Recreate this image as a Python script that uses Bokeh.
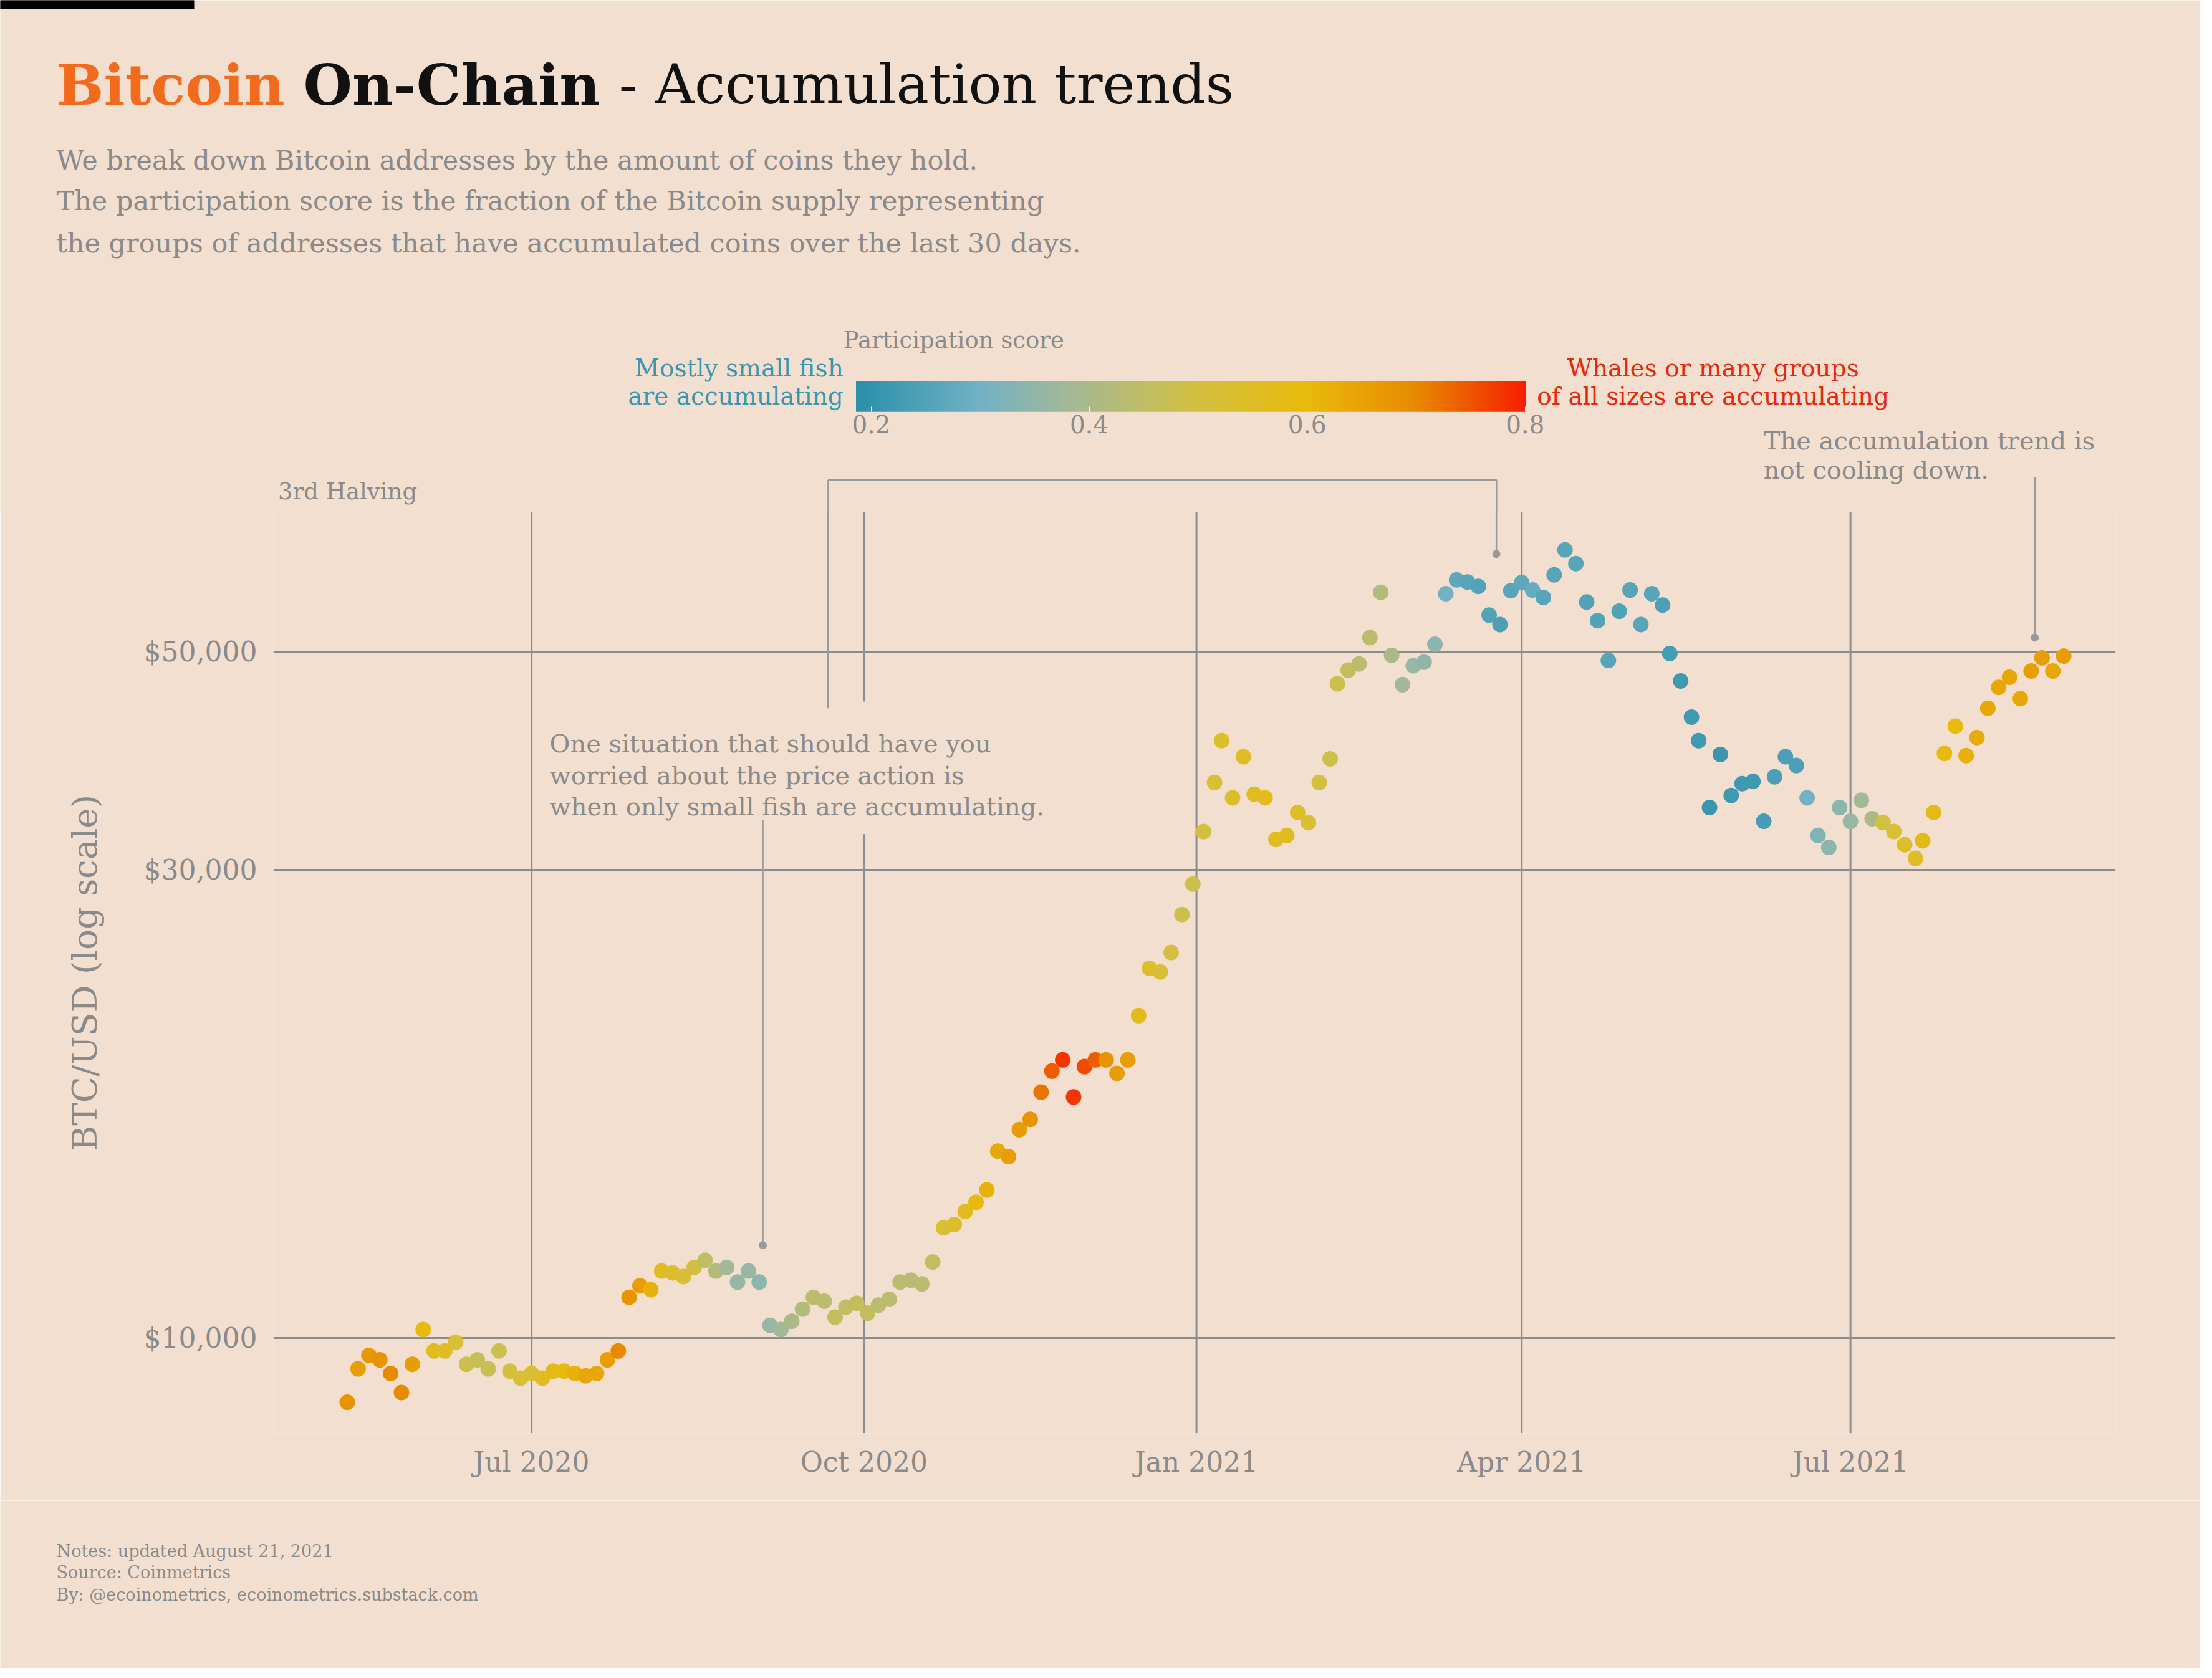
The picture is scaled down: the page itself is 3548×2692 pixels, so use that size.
import numpy as np
import pandas as pd
from bokeh.plotting import figure
from bokeh.layouts import column
from bokeh.models import (Label, ColorBar, LinearColorMapper, FixedTicker, Range1d, ColumnDataSource)
from bokeh.embed import file_html
from bokeh.resources import INLINE

# ---------------- data ----------------
dates = ["2020-05-11","2020-05-14","2020-05-17","2020-05-20","2020-05-23","2020-05-26","2020-05-29","2020-06-01",
"2020-06-04","2020-06-07","2020-06-10","2020-06-13","2020-06-16","2020-06-19","2020-06-22","2020-06-25","2020-06-28",
"2020-07-01","2020-07-04","2020-07-07","2020-07-10","2020-07-13","2020-07-16","2020-07-19","2020-07-22","2020-07-25",
"2020-07-28","2020-07-31","2020-08-03","2020-08-06","2020-08-09","2020-08-12","2020-08-15","2020-08-18","2020-08-21",
"2020-08-24","2020-08-27","2020-08-30","2020-09-02","2020-09-05","2020-09-08","2020-09-11","2020-09-14","2020-09-17",
"2020-09-20","2020-09-23","2020-09-26","2020-09-29","2020-10-02","2020-10-05","2020-10-08","2020-10-11","2020-10-14",
"2020-10-17","2020-10-20","2020-10-23","2020-10-26","2020-10-29","2020-11-01","2020-11-04","2020-11-07","2020-11-10",
"2020-11-13","2020-11-16","2020-11-19","2020-11-22","2020-11-25","2020-11-28","2020-12-01","2020-12-04","2020-12-07",
"2020-12-10","2020-12-13","2020-12-16","2020-12-19","2020-12-22","2020-12-25","2020-12-28","2020-12-31","2021-01-03",
"2021-01-06","2021-01-08","2021-01-11","2021-01-14","2021-01-17","2021-01-20","2021-01-23","2021-01-26","2021-01-29",
"2021-02-01","2021-02-04","2021-02-07","2021-02-09","2021-02-12","2021-02-15","2021-02-18","2021-02-21","2021-02-24",
"2021-02-27","2021-03-02","2021-03-05","2021-03-08","2021-03-11","2021-03-14","2021-03-17","2021-03-20","2021-03-23",
"2021-03-26","2021-03-29","2021-04-01","2021-04-04","2021-04-07","2021-04-10","2021-04-13","2021-04-16","2021-04-19",
"2021-04-22","2021-04-25","2021-04-28","2021-05-01","2021-05-04","2021-05-07","2021-05-10","2021-05-12","2021-05-15",
"2021-05-18","2021-05-20","2021-05-23","2021-05-26","2021-05-29","2021-06-01","2021-06-04","2021-06-07","2021-06-10",
"2021-06-13","2021-06-16","2021-06-19","2021-06-22","2021-06-25","2021-06-28","2021-07-01","2021-07-04","2021-07-07",
"2021-07-10","2021-07-13","2021-07-16","2021-07-19","2021-07-21","2021-07-24","2021-07-27","2021-07-30","2021-08-02",
"2021-08-05","2021-08-08","2021-08-11","2021-08-14","2021-08-17","2021-08-20","2021-08-23","2021-08-26","2021-08-29"]
price = [8600,9300,9600,9500,9200,8800,9400,10200,9700,9700,9900,9400,9500,9300,9700,9250,9100,
9200,9100,9250,9250,9200,9150,9200,9500,9700,11000,11300,11200,11700,11650,11550,11800,12000,11700,
11800,11400,11700,11400,10300,10200,10400,10700,11000,10900,10500,10750,10850,10600,10800,10950,11400,11450,
11350,11950,12950,13050,13450,13750,14150,15500,15300,16300,16700,17800,18700,19200,17600,18900,19200,19200,
18600,19200,21300,23800,23600,24700,27000,29000,32800,36800,40600,35500,39100,35800,35500,32200,32500,34300,
33500,36800,38900,46400,47900,48600,51700,57500,49600,46300,48400,48800,50900,57300,59200,58900,58300,54500,
53300,57700,58800,57800,56800,59900,63500,61500,56200,53800,49000,55000,57800,53300,57300,55800,49800,46700,
42900,40600,34700,39300,35700,36700,36900,33600,37300,39100,38300,35500,32500,31600,34700,33600,35300,33800,
33500,32800,31800,30800,32100,34300,39400,42000,39200,40900,43800,46000,47100,44800,47800,49300,47800,49500]
score = [0.68,0.66,0.67,0.68,0.70,0.70,0.66,0.60,0.56,0.55,0.52,0.48,0.47,0.47,0.48,0.50,0.52,
0.52,0.56,0.58,0.60,0.62,0.64,0.64,0.66,0.70,0.68,0.66,0.62,0.56,0.54,0.52,0.50,0.45,0.42,
0.38,0.36,0.36,0.34,0.36,0.38,0.40,0.42,0.44,0.44,0.46,0.45,0.46,0.46,0.44,0.44,0.44,0.43,
0.44,0.46,0.52,0.54,0.56,0.60,0.62,0.64,0.66,0.66,0.68,0.72,0.74,0.78,0.78,0.76,0.74,0.68,
0.66,0.66,0.58,0.54,0.52,0.50,0.48,0.48,0.50,0.52,0.54,0.54,0.55,0.56,0.56,0.56,0.56,0.55,
0.52,0.50,0.48,0.48,0.46,0.44,0.44,0.42,0.40,0.38,0.36,0.35,0.34,0.30,0.27,0.26,0.25,0.25,
0.24,0.26,0.27,0.28,0.26,0.26,0.26,0.26,0.25,0.25,0.26,0.25,0.26,0.26,0.26,0.24,0.23,0.22,
0.22,0.22,0.21,0.21,0.22,0.22,0.22,0.23,0.24,0.24,0.24,0.30,0.32,0.34,0.34,0.36,0.38,0.40,
0.50,0.52,0.54,0.55,0.58,0.58,0.60,0.60,0.62,0.63,0.64,0.64,0.64,0.64,0.66,0.66,0.64,0.66]

tick_dates = ["2020-07-01", "2020-10-01", "2021-01-01", "2021-04-01", "2021-07-01"]
tick_labels = ["Jul 2020", "Oct 2020", "Jan 2021", "Apr 2021", "Jul 2021"]
y_ticks = [10000, 30000, 50000]
y_labels = ["$10,000", "$30,000", "$50,000"]
cb_ticks = [0.2, 0.4, 0.6, 0.8]

# ---------------- style ----------------
S = 2.25
W = 3528
BG = "#F2DFCF"
GRID = "#8C8C8C"
GREY = "#8A8A8A"
LC = "#9A9A9A"
FONT = "DejaVu Serif"
L0, T0, B0, BB = 195, 365, 1022, 1070
PXD = 2.5753

def ms(d): return pd.Timestamp(d).value / 1e6
def refx(d): return 379 + (pd.Timestamp(d) - pd.Timestamp("2020-07-01")).days * PXD

def lab(fig, xr, yr, text, size, color=GREY, style="normal", align="left", baseline="middle"):
    fig.add_layout(Label(x=xr, y=yr, text=text, text_font=FONT, text_font_size=f"{size}px",
                         text_color=color, text_font_style=style, text_align=align,
                         text_baseline=baseline))

def blank(h, y0, y1):
    f = figure(width=W, height=h, output_backend="svg", toolbar_location=None,
               x_axis_location=None, y_axis_location=None,
               x_range=Range1d(0, W / S), y_range=Range1d(y1, y0), min_border=0)
    f.frame_align = False
    f.background_fill_color = BG
    f.border_fill_color = BG
    f.outline_line_color = None
    f.grid.grid_line_color = None
    return f

stops = [(0.186, (0x2A, 0x8F, 0xAA)), (0.30, (0x72, 0xB2, 0xC3)), (0.38, (0xA3, 0xB8, 0x98)),
         (0.50, (0xD4, 0xC0, 0x40)), (0.60, (0xE8, 0xBA, 0x0C)), (0.70, (0xE8, 0x8A, 0x00)),
         (0.801, (0xF6, 0x1E, 0x00))]
pal = []
for t in np.linspace(0.186, 0.801, 256):
    for (a, ca), (b, cb) in zip(stops[:-1], stops[1:]):
        if a <= t <= b:
            f = (t - a) / (b - a)
            c = [int(round(ca[i] + f * (cb[i] - ca[i]))) for i in range(3)]
            pal.append("#%02x%02x%02x" % tuple(c))
            break
mapper = LinearColorMapper(palette=pal, low=0.186, high=0.801)

# ---------------- header ----------------
top_h = int(round(T0 * S))
top = blank(top_h, 0, top_h / S)
top.quad(left=[0], right=[138], top=[0], bottom=[6], color="black")
lab(top, 40, 60, "Bitcoin", 90, "#F26A1B", "bold", baseline="alphabetic")
lab(top, 216, 60, "On-Chain", 90, "#111111", "bold", baseline="alphabetic")
lab(top, 441, 60, "- Accumulation trends", 88, "#111111", baseline="alphabetic")
for yr, t in zip([114, 143, 173], [
        "We break down Bitcoin addresses by the amount of coins they hold.",
        "The participation score is the fraction of the Bitcoin supply representing",
        "the groups of addresses that have accumulated coins over the last 30 days."]):
    lab(top, 40, yr, t, 43)

lab(top, 601, 242, "Participation score", 37)
lab(top, 601, 262, "Mostly small fish", 39, "#3A97B0", align="right")
lab(top, 601, 282, "are accumulating", 39, "#3A97B0", align="right")
lab(top, 1221, 262, "Whales or many groups", 39, "#E8280A", align="center")
lab(top, 1221, 282, "of all sizes are accumulating", 39, "#E8280A", align="center")
cb = ColorBar(color_mapper=mapper, orientation="horizontal", location=(610 * S, (T0 - 310) * S),
              width=int(478 * S), height=int(22 * S), padding=0,
              ticker=FixedTicker(ticks=cb_ticks),
              major_label_overrides={0.2: "0.2", 0.4: "0.4", 0.6: "0.6", 0.8: "0.8"},
              major_label_text_font=FONT, major_label_text_font_size="39px",
              major_label_text_color=GREY, major_tick_line_color="white",
              major_tick_in=8, major_tick_out=0, background_fill_alpha=0,
              border_line_color=None, bar_line_color=None)
top.add_layout(cb, "center")
lab(top, 198, 350, "3rd Halving", 37)
lab(top, 1257, 314, "The  accumulation trend is", 40)
lab(top, 1257, 335, "not cooling down.", 40)
xa, xb, xc = refx("2020-09-21"), refx("2021-03-25"), refx("2021-08-21")
top.line([xa, xa, xb, xb], [T0 + 2, 342, 342, T0 + 2], line_color=LC, line_width=2.5)
top.line([xc, xc], [340, T0 + 2], line_color=LC, line_width=2.5)

# ---------------- main chart ----------------
x0 = ms("2020-07-01") - 184 / PXD * 86400000
x1 = ms("2021-07-01") + 189 / PXD * 86400000
main_h = int(round((BB - T0) * S))
p = figure(width=W, height=main_h, x_axis_type="datetime", y_axis_type="log",
           output_backend="svg", toolbar_location=None,
           x_range=Range1d(x0, x1), y_range=Range1d(7995, 69400),
           min_border_left=int(L0 * S), min_border_right=int((1568 - 1508) * S),
           min_border_top=0, min_border_bottom=int((BB - B0) * S))
p.frame_align = False
p.background_fill_color = BG
p.border_fill_color = BG
p.outline_line_color = None
p.xgrid.grid_line_color = None
p.ygrid.ticker = FixedTicker(ticks=y_ticks)
p.ygrid.grid_line_color = GRID
p.ygrid.grid_line_width = 3

for ax in (p.xaxis[0], p.yaxis[0]):
    ax.axis_line_color = None
    ax.major_tick_line_color = None
    ax.minor_tick_line_color = None
    ax.major_label_text_color = GREY
    ax.major_label_text_font = FONT
    ax.major_label_text_font_size = "44px"
p.yaxis.ticker = FixedTicker(ticks=y_ticks)
p.yaxis.major_label_overrides = {t: l for t, l in zip(y_ticks, y_labels)}
p.yaxis.major_label_standoff = 20
p.yaxis.axis_label = "BTC/USD (log scale)"
p.yaxis.axis_label_text_font = FONT
p.yaxis.axis_label_text_font_style = "normal"
p.yaxis.axis_label_text_font_size = "55px"
p.yaxis.axis_label_text_color = GREY
p.yaxis.axis_label_standoff = 60
xt = [ms(d) for d in tick_dates]
p.xaxis.ticker = FixedTicker(ticks=xt)
p.xaxis.major_label_overrides = {t: l for t, l in zip(xt, tick_labels)}
p.xaxis.major_label_standoff = 14

top_v, bot_v = 69400, 7995
vx0, vx1, vy0, vy1 = [], [], [], []
for d in tick_dates:
    if d == "2020-10-01":
        vx0 += [ms(d), ms(d)]; vx1 += [ms(d), ms(d)]
        vy0 += [top_v, 32600]; vy1 += [44500, bot_v]
    else:
        vx0.append(ms(d)); vx1.append(ms(d)); vy0.append(top_v); vy1.append(bot_v)
p.segment(vx0, vy0, vx1, vy1, line_color=GRID, line_width=3)

src = ColumnDataSource(dict(x=[ms(d) for d in dates], y=price, score=score))
p.scatter("x", "y", source=src, size=25, line_color=None,
          fill_color={"field": "score", "transform": mapper})

p.line([ms("2020-09-03")] * 2, [33700, 12430], line_color=LC, line_width=2.5)
p.line([ms("2020-09-21")] * 2, [69400, 43800], line_color=LC, line_width=2.5)
p.line([ms("2021-03-25")] * 2, [69400, 62900], line_color=LC, line_width=2.5)
p.line([ms("2021-08-21")] * 2, [69400, 51700], line_color=LC, line_width=2.5)
p.scatter([ms("2020-09-03"), ms("2021-03-25"), ms("2021-08-21")], [12430, 62900, 51700],
          size=12, color=LC)

for yp, t in zip([40300, 37400, 34800], ["One situation that should have you",
                                         "worried about the price action is",
                                         "when only small fish are accumulating."]):
    p.add_layout(Label(x=ms("2020-07-06"), y=yp, text=t, text_font=FONT, text_font_size="40px",
                       text_color=GREY, text_baseline="middle"))

# ---------------- footer ----------------
foot_h = 2676 - top_h - main_h
foot = blank(foot_h, BB, BB + foot_h / S)
for yr, t in zip([1106, 1121, 1137], ["Notes: updated August 21, 2021", "Source: Coinmetrics",
                                      "By: @ecoinometrics, ecoinometrics.substack.com"]):
    lab(foot, 40, yr, t, 27)

layout = column(top, p, foot, spacing=0)
open("out.html", "w").write(file_html(layout, INLINE))
